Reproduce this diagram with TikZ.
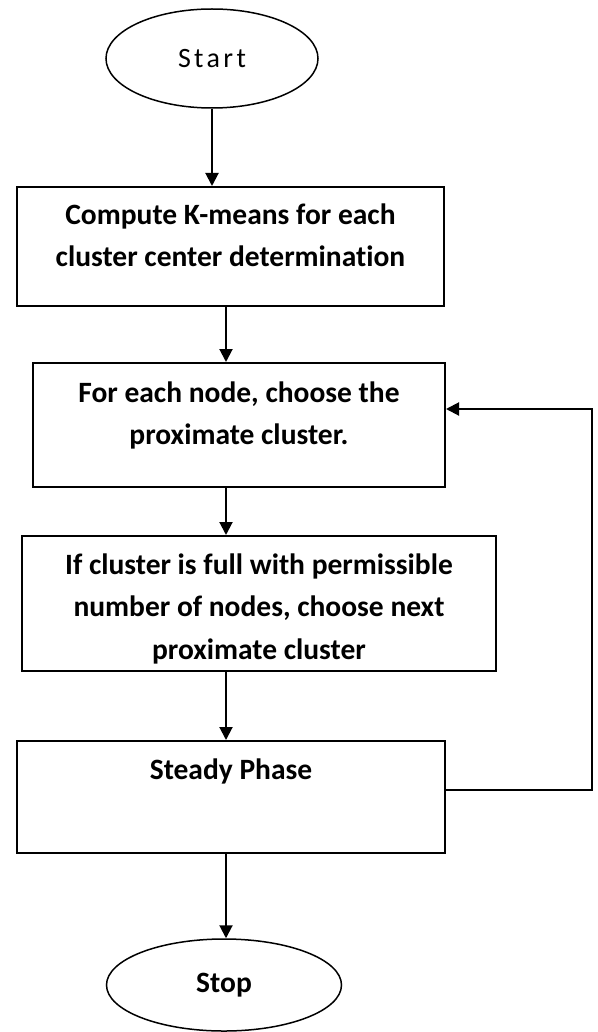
\documentclass[tikz,border=0pt]{standalone}
\usepackage{fontspec}
\setmainfont[Ligatures=NoCommon]{Carlito}
\newfontfamily\spacedfont[LetterSpace=12]{Carlito}
\usetikzlibrary{arrows.meta,shapes.geometric}
\begin{document}
\begin{tikzpicture}[x=1pt,y=-1pt,
  box/.style={draw,line width=2pt,inner sep=0pt},
  oval/.style={draw,ellipse,line width=1.5pt,inner sep=0pt},
  txt/.style={font=\bfseries\fontsize{29.5}{42.5}\selectfont,align=center,inner sep=0pt,anchor=north},
  arr/.style={line width=2pt,-{Triangle[length=13pt,width=13pt]}}]
\useasboundingbox (0,0) rectangle (597,1032);
\node[oval,minimum width=212pt,minimum height=99pt] (start) at (212,58.5) {\spacedfont\fontsize{28}{34}\selectfont Start};
\node[box,minimum width=427pt,minimum height=119pt] (compute) at (230.5,246.5) {};
\node[txt] (computetxt) at (230.5,203.5) {Compute K-means for each\\cluster center determination};
\node[box,minimum width=412pt,minimum height=124pt] (choose) at (239,425) {};
\node[txt] (choosetxt) at (239,381.5) {For each node, choose the\\proximate cluster.};
\node[box,minimum width=474pt,minimum height=135pt] (full) at (259,603.5) {};
\node[txt] (fulltxt) at (259,553.5) {If cluster is full with permissible\\number of nodes, choose next\\proximate cluster};
\node[box,minimum width=428pt,minimum height=112pt] (steady) at (231,797) {};
\node[txt] (steadytxt) at (231,758.5) {Steady Phase};
\node[oval,minimum width=235pt,minimum height=92pt] (stop) at (224,985) {\bfseries\fontsize{29.5}{34}\selectfont Stop};
\coordinate (axis) at (226,0);
\coordinate (turn) at (592,790);
\draw[arr] (start) -- (start |- compute.north);
\draw[arr] (compute.south -| axis) -- (choose.north -| axis);
\draw[arr] (choose.south -| axis) -- (full.north -| axis);
\draw[arr] (full.south -| axis) -- (steady.north -| axis);
\draw[arr] (steady.south -| axis) -- (stop.north -| axis);
% loop back
\draw[arr] ([yshift=7pt]steady.east) -- (turn) |- ([yshift=16pt]choose.east);
\end{tikzpicture}
\end{document}
